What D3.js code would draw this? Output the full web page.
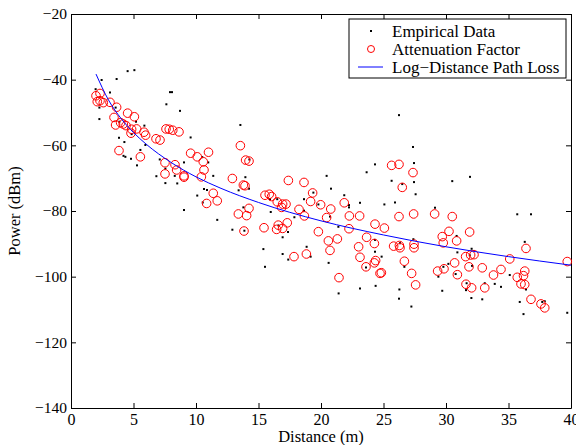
<!DOCTYPE html>
<html>
<head>
<meta charset="utf-8">
<script src="https://cdn.jsdelivr.net/npm/d3@7"></script>
<style>
  body { margin: 0; background: #fff; }
  svg text { font-family: "Liberation Serif", "Times New Roman", serif; fill: #000; }
</style>
</head>
<body>
<div id="chart"></div>
<script>
// Empirical data: [distance (m), power (dBm)]
const empirical = [
  [2.45,-40.1],[3.65,-39.8],[4.53,-37.4],[5.07,-37.1],[1.97,-42.9],[3.12,-43.9],[7.92,-43.8],[8.08,-43.8],
  [7.63,-47.5],[8.72,-49.5],[2.27,-48.5],[2.27,-52.0],[3.57,-48.5],[5.87,-54.0],[3.84,-57.7],[4.27,-59.0],
  [5.55,-61.4],[4.2,-63.2],[4.35,-63.5],[4.8,-64.1],[5.28,-66.1],[5.95,-59.9],[7.1,-64.3],[7.55,-67.1],
  [6.83,-69.4],[7.55,-71.5],[8.5,-71.6],[8.3,-69.3],[3.87,-52.8],[5.2,-52.8],[4.85,-56.6],
  [9.04,-65.2],[9.57,-57.6],[10.5,-63.6],[10.98,-65.2],[11.38,-69.3],[10.64,-73.3],[10.88,-73.6],[10.1,-75.3],
  [10.54,-77.4],[9.04,-79.7],[11.7,-82.7],
  [13.55,-53.8],[13.95,-69.7],[14.24,-73.2],[13.41,-73.7],[13.79,-78.9],[12.91,-85.7],[13.87,-86.0],[15.39,-91.6],
  [15.52,-97.0],[15.98,-80.3],[15.92,-76.4],[16.6,-84.4],[14.27,-64.3],[16.5,-76.4],
  [24.32,-65.8],[23.65,-68.2],[20.45,-69.3],[20.8,-73.2],[21.86,-75.2],[22.24,-78.2],[22.24,-78.9],[23.12,-77.5],
  [18.64,-76.4],[18.64,-79.9],[19.39,-74.4],[19.79,-78.0],[17.87,-81.9],[16.93,-88.0],[17.36,-86.4],[20.72,-81.7],
  [21.39,-84.8],[18.85,-90.9],[19.17,-93.9],[16.93,-93.1],[17.38,-94.8],[20.61,-95.8],[21.41,-105.1],[23.12,-103.6],
  [23.6,-97.2],[24.32,-92.4],[24.37,-102.8],
  [26.24,-50.8],[27.36,-60.5],[27.44,-65.4],[25.65,-70.8],[27.44,-71.2],[27.57,-74.9],[26.5,-71.8],[25.92,-77.4],
  [25.07,-78.0],[29.12,-79.0],[27.39,-88.6],[24.32,-88.8],[26.32,-89.8],[24.85,-93.9],[26.67,-97.0],[26.27,-103.9],
  [26.24,-106.7],[27.23,-109.1],[29.7,-104.3],[29.79,-97.0],[30.19,-96.1],[29.39,-100.0],
  [30.5,-70.9],[31.92,-69.6],[30.85,-87.6],[32.05,-91.5],[30.91,-92.6],[30.77,-99.2],[31.6,-104.1],[31.65,-102.0],
  [32.03,-106.5],[32.08,-96.7],[31.9,-93.5],
  [35.7,-81.0],[36.8,-81.0],[36.3,-89.4],[35.1,-99.5],[33.9,-102.2],[34.4,-103.1],[33.1,-102.0],[32.9,-106.9],
  [35.9,-107.7],[36.2,-111.4],[36.4,-103.9],[37.7,-107.7],[37.9,-107.5],[39.7,-111.0]
];

// Attenuation factor model: [distance (m), power (dBm)]
const attenuation = [
  [2.0,-44.9],[2.32,-44.2],[2.1,-46.7],[2.32,-46.4],[2.58,-47.0],[3.12,-46.9],[3.65,-48.4],[4.53,-50.2],
  [5.07,-51.3],[3.44,-51.5],[3.57,-53.8],[3.97,-53.1],[4.18,-53.5],[4.4,-54.0],[4.85,-55.1],[5.25,-55.0],
  [5.84,-56.0],[5.97,-56.9],[4.8,-56.3],[6.8,-58.0],[7.12,-58.4],[7.6,-55.0],[7.86,-55.1],[8.14,-55.4],
  [8.64,-55.9],[3.84,-61.6],[5.55,-63.5],[7.52,-65.3],[8.32,-65.9],[8.45,-67.5],[7.52,-68.7],
  [9.04,-69.3],[9.04,-69.7],[9.57,-62.4],[10.1,-63.5],[10.58,-65.0],[11.0,-62.1],[10.64,-67.5],[10.43,-69.6],
  [11.38,-74.6],[11.7,-76.9],[10.85,-77.7],
  [13.55,-60.1],[13.97,-64.5],[14.24,-64.8],[12.91,-70.1],[13.79,-72.1],[13.92,-72.3],[14.24,-79.2],[14.05,-81.4],
  [13.39,-80.9],[13.84,-86.1],[15.44,-85.1],[15.52,-75.2],[15.86,-74.9],[16.05,-75.6],[16.5,-77.2],[16.45,-85.6],
  [16.58,-84.3],
  [17.39,-70.7],[18.64,-71.3],[19.33,-74.5],[19.17,-77.1],[19.97,-78.1],[20.78,-79.4],[18.24,-79.5],[18.67,-81.5],
  [20.45,-82.0],[21.86,-77.5],[22.27,-81.5],[23.09,-81.5],[24.32,-84.0],[16.93,-77.9],[17.2,-77.9],[16.85,-78.9],
  [17.3,-83.6],[16.93,-85.3],[19.79,-86.3],[22.24,-85.4],[20.59,-89.1],[21.31,-88.5],[20.72,-92.0],[17.84,-93.9],
  [18.83,-93.1],[23.65,-88.0],[23.01,-90.9],[23.12,-94.1],[24.27,-89.9],[24.37,-95.1],[24.27,-95.8],[23.6,-97.0],
  [24.72,-99.0],[21.44,-100.3],
  [25.65,-66.1],[26.24,-65.8],[27.36,-68.3],[26.5,-72.8],[26.24,-81.7],[27.41,-80.9],[29.09,-80.9],[25.07,-85.2],
  [25.81,-90.7],[26.27,-90.5],[26.32,-91.2],[27.44,-90.1],[27.44,-91.2],[29.7,-87.8],[29.78,-89.7],[26.67,-95.3],
  [24.83,-98.8],[27.25,-99.0],[27.57,-102.5],[29.33,-98.3],[29.84,-97.6],
  [30.5,-81.7],[30.24,-86.2],[30.85,-89.1],[31.89,-86.4],[31.57,-93.9],[31.97,-93.4],[32.24,-93.3],[31.84,-97.0],
  [30.69,-95.8],[30.91,-99.4],[31.6,-102.3],[32.05,-103.4],
  [36.4,-91.4],[35.1,-94.6],[32.9,-97.3],[34.4,-97.8],[33.8,-99.5],[36.3,-98.3],[36.2,-99.7],[35.7,-100.2],
  [36.0,-102.2],[36.3,-102.4],[33.1,-103.4],[36.8,-106.9],[37.6,-108.3],[37.9,-109.5],[39.7,-95.4]
];

// Log-distance path loss curve
const pathDist  = [2, 3, 4, 5, 6, 8, 10, 12, 15, 20, 25, 30, 35, 40];
const pathPower = [-38.3, -46.2, -51.8, -56.1, -59.6, -65.2, -69.6, -73.1, -77.4, -83.0, -87.3, -90.9, -93.9, -96.5];

const xTicks = [0, 5, 10, 15, 20, 25, 30, 35, 40];
const yTicks = [-140, -120, -100, -80, -60, -40, -20];
const legendLabels = ['Empirical Data', 'Attenuation Factor', 'Log\u2212Distance Path Loss'];

const width = 576, height = 445;
const margin = {top: 14, right: 5, bottom: 37, left: 71};

const svg = d3.select('#chart').append('svg')
    .attr('width', width)
    .attr('height', height);

const x = d3.scaleLinear().domain([0, 40]).range([margin.left, width - margin.right]);
const y = d3.scaleLinear().domain([-140, -20]).range([height - margin.bottom, margin.top]);

const fmt = d => (d < 0 ? '\u2212' + Math.abs(d) : d);

// Axes: ticks pointing inward, MATLAB style
svg.append('g')
    .attr('transform', 'translate(0,' + y(-140) + ')')
    .call(d3.axisBottom(x).tickValues(xTicks).tickSizeInner(-5).tickSizeOuter(0).tickPadding(4).tickFormat(fmt))
    .call(g => g.selectAll('text').style('font-size', '16px').attr('dy', '0.82em'));

svg.append('g')
    .attr('transform', 'translate(0,' + y(-20) + ')')
    .call(d3.axisTop(x).tickValues(xTicks).tickSizeInner(-5).tickSizeOuter(0).tickFormat(''));

svg.append('g')
    .attr('transform', 'translate(' + x(0) + ',0)')
    .call(d3.axisLeft(y).tickValues(yTicks).tickSizeInner(-5).tickSizeOuter(0).tickPadding(4).tickFormat(fmt))
    .call(g => g.selectAll('text').style('font-size', '15.5px'));

svg.append('g')
    .attr('transform', 'translate(' + x(40) + ',0)')
    .call(d3.axisRight(y).tickValues(yTicks).tickSizeInner(-5).tickSizeOuter(0).tickFormat(''));

svg.selectAll('.domain').attr('stroke', '#000').attr('stroke-width', 1);
svg.selectAll('.tick line').attr('stroke', '#000');

// Axis labels
svg.append('text')
    .attr('x', x(20))
    .attr('y', height - 3)
    .attr('text-anchor', 'middle')
    .style('font-size', '16.5px')
    .text('Distance (m)');

svg.append('text')
    .attr('transform', 'translate(20,' + y(-80) + ') rotate(-90)')
    .attr('text-anchor', 'middle')
    .style('font-size', '16.5px')
    .text('Power (dBm)');

// Empirical dots
svg.append('g').selectAll('rect')
    .data(empirical)
    .enter().append('rect')
    .attr('x', d => x(d[0]) - 1)
    .attr('y', d => y(d[1]) - 1)
    .attr('width', 2)
    .attr('height', 2)
    .attr('fill', '#000');

// Attenuation factor circles
svg.append('g').selectAll('circle')
    .data(attenuation)
    .enter().append('circle')
    .attr('cx', d => x(d[0]))
    .attr('cy', d => y(d[1]))
    .attr('r', 4.3)
    .attr('fill', 'none')
    .attr('stroke', '#ff0000')
    .attr('stroke-width', 1);

// Path loss line
const line = d3.line()
    .x(d => x(d[0]))
    .y(d => y(d[1]))
    .curve(d3.curveMonotoneX);

svg.append('path')
    .datum(pathDist.map((d, i) => [d, pathPower[i]]))
    .attr('d', line)
    .attr('fill', 'none')
    .attr('stroke', '#0000ff')
    .attr('stroke-width', 1);

// Legend
const legend = svg.append('g').attr('transform', 'translate(349,19)');
legend.append('rect')
    .attr('width', 217)
    .attr('height', 59)
    .attr('fill', '#fff')
    .attr('stroke', '#000');

legendLabels.forEach((label, i) => {
    let cy = 12 + i * 18;
    if (i === 0) {
        legend.append('rect').attr('x', 21).attr('y', cy - 1).attr('width', 2).attr('height', 2).attr('fill', '#000');
    } else if (i === 1) {
        legend.append('circle').attr('cx', 22).attr('cy', cy).attr('r', 3.5)
            .attr('fill', 'none').attr('stroke', '#ff0000');
    } else {
        legend.append('line').attr('x1', 9).attr('x2', 34).attr('y1', cy).attr('y2', cy)
            .attr('stroke', '#0000ff');
    }
    legend.append('text')
        .attr('x', 43)
        .attr('y', cy + 5.5)
        .style('font-size', '17px')
        .text(label);
});
</script>
</body>
</html>
